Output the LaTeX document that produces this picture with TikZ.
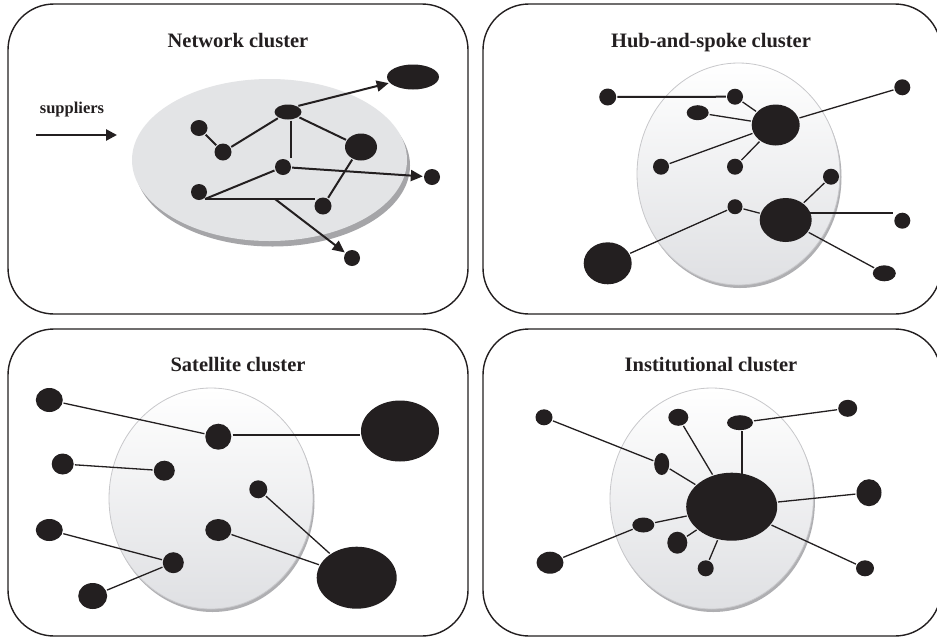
\documentclass[tikz,border=0pt]{standalone}
\usepackage{fontspec}
\setmainfont{Liberation Serif}
\usetikzlibrary{shapes.geometric,arrows.meta,calc}
\definecolor{ink}{RGB}{35,31,32}
\definecolor{diskgray}{RGB}{227,228,230}
\definecolor{diskshadow}{RGB}{165,165,168}
\definecolor{disklow}{RGB}{223,224,227}
\definecolor{diskrim}{RGB}{200,200,203}
\definecolor{rimshadow}{RGB}{175,175,178}
\begin{document}
\begin{tikzpicture}[x=1pt,y=-1pt]
\tikzset{
  dot/.style={ellipse, fill=ink, draw=none, inner sep=0pt, outer sep=1.2pt},
  sz/.style 2 args={minimum width=#1pt, minimum height=#2pt},
  panel/.style={draw=ink, line width=1.4pt, rounded corners=46pt},
  title/.style={font=\fontsize{20.5}{24}\selectfont\bfseries, text=ink, anchor=base},
  link/.style={draw=ink, line width=1.3pt},
  boldlink/.style={draw=ink, line width=2pt},
  flow/.style={draw=ink, line width=2pt, -{Triangle[length=12pt,width=11pt]}},
}
\useasboundingbox (0,0) rectangle (937,638);
\fill[white] (0,0) rectangle (937,638);

% ---------- panel frames ----------
\draw[panel] (8,4) rectangle (468,314);
\draw[panel] (483,4) rectangle (941,314);
\draw[panel] (8,329) rectangle (468,636);
\draw[panel] (483,329) rectangle (941,636);

% ---------- titles ----------
\node[title] (t1) at (238,47) {Network cluster};
\node[title] (t2) at (711,47) {Hub-and-spoke cluster};
\node[title] (t3) at (238,371) {Satellite cluster};
\node[title] (t4) at (711,371) {Institutional cluster};

% ---------- discs ----------
% flat disc with a drop shadow
\fill[diskshadow] (272.5,165.5) ellipse [x radius=137.5, y radius=81];
\fill[diskgray] (269.5,160) ellipse [x radius=137.5, y radius=81];
% shaded discs
\foreach \cx/\cy/\rx/\ry in {738.5/174/101.5/111, 211/498.5/102/110.5, 711.7/498.5/101.7/110.5}{
  \fill[rimshadow] (\cx+1.5,\cy+3) ellipse [x radius=\rx, y radius=\ry];
  \shade[top color=white, bottom color=disklow] (\cx,\cy) ellipse [x radius=\rx, y radius=\ry];
  \draw[diskrim, line width=0.8pt] (\cx,\cy) ellipse [x radius=\rx, y radius=\ry];
}

% ---------- network cluster ----------
\node[font=\fontsize{16.5}{20}\selectfont\bfseries, text=ink, anchor=base] (sup) at (72,113) {suppliers};
\coordinate (sA) at (36,135);
\coordinate (sB) at (117,135);
\draw[draw=ink, line width=2.6pt, -{Triangle[length=11pt,width=11pt]}] (sA) -- (sB);

\node[dot, sz={17}{16}] (n1) at (199,128) {};
\node[dot, sz={17}{17}] (n2) at (223,152) {};
\node[dot, sz={27}{15}] (n3) at (288,112) {};
\node[dot, sz={32}{27}] (n4) at (361,147) {};
\node[dot, sz={16}{16}] (n5) at (283,167) {};
\node[dot, sz={16}{16}] (n6) at (199,192) {};
\node[dot, sz={17}{17}] (n7) at (323,206) {};
\node[dot, sz={52}{25}] (n8) at (413,77) {};
\node[dot, sz={16}{16}] (n9) at (432,177) {};
\node[dot, sz={16}{16}] (n10) at (352,258) {};

\coordinate (f0) at (205,199);
\coordinate (f1) at (315,199);
\coordinate (fork) at (275,199);
\begin{scope}[boldlink]
  \draw (n1) -- (n2);
  \draw (n2) -- (n3);
  \draw ([xshift=3pt]n3.south) -- ([xshift=3pt]n3.south |- n5.north);
  \draw (n3) -- (n4);
  \draw (f0) -- (n5);
  \draw (f0) -- (f1);
  \draw (n4.235) -- (n7);
\end{scope}
\draw[flow] (n3.north east) -- (n8);
\draw[flow] (n5) -- (n9);
\draw[flow] (fork) -- (n10);

% ---------- hub-and-spoke cluster ----------
\node[dot, sz={17}{17}] (h1) at (607.7,97) {};
\node[dot, sz={16}{16}] (h2) at (735,96.7) {};
\node[dot, sz={22}{15}] (h3) at (697.7,112.7) {};
\node[dot, sz={48}{41}] (h4) at (775.7,125) {};
\node[dot, sz={16}{16}] (h5) at (902.3,87.3) {};
\node[dot, sz={16}{16}] (h6) at (661,166.7) {};
\node[dot, sz={16}{16}] (h7) at (735,166.7) {};
\node[dot, sz={16}{16}] (h8) at (831,176.7) {};
\node[dot, sz={15}{15}] (h9) at (735,206.7) {};
\node[dot, sz={52}{44}] (h10) at (785.7,220) {};
\node[dot, sz={16}{16}] (h11) at (902.3,220.7) {};
\node[dot, sz={48}{42}] (h12) at (607.7,263.3) {};
\node[dot, sz={23}{16}] (h13) at (884.3,273.3) {};

\draw[boldlink] (h1) -- (h2);
\begin{scope}[link]
  \draw (h2) -- (h4);
  \draw (h3) -- (h4);
  \draw (h4) -- (h5);
  \draw (h6) -- (h4);
  \draw (h7) -- (h4);
  \draw (h9) -- (h12);
  \draw (h9) -- (h10);
  \draw (h10) -- (h8);
  \draw (h10) -- (h13);
\end{scope}
\draw[draw=ink, line width=1.6pt] ([xshift=-3pt,yshift=7pt]h10.east) -- ([yshift=7pt]h10.east -| h11.west);

% ---------- satellite cluster ----------
\node[dot, sz={27}{24}] (s1) at (49.3,400) {};
\node[dot, sz={26}{26}] (s2) at (218.3,436.7) {};
\node[dot, sz={78}{61}] (s3) at (400,431) {};
\node[dot, sz={22}{21}] (s4) at (62.7,464) {};
\node[dot, sz={21}{20}] (s5) at (164.3,470.7) {};
\node[dot, sz={18}{18}] (s6) at (258.3,489.3) {};
\node[dot, sz={27}{22}] (s7) at (49.3,530) {};
\node[dot, sz={26}{22}] (s8) at (218.3,530) {};
\node[dot, sz={21}{21}] (s9) at (173.3,562.7) {};
\node[dot, sz={29}{26}] (s10) at (92.7,596) {};
\node[dot, sz={80}{62}] (s11) at (356.7,577.7) {};

\draw[boldlink] ([yshift=1.5pt]s2.east) -- ([yshift=1.5pt]s2.east -| s3.west);
\begin{scope}[link]
  \draw (s1) -- (s2);
  \draw (s4) -- (s5);
  \draw (s7) -- (s9);
  \draw (s10) -- (s9);
  \draw (s8) -- (s11);
  \draw (s6) -- (s11);
\end{scope}

% ---------- institutional cluster ----------
\node[dot, sz={17}{16}] (i1) at (544,417.3) {};
\node[dot, sz={20}{17}] (i2) at (678.3,417.3) {};
\node[dot, sz={26}{15}] (i3) at (740,422.7) {};
\node[dot, sz={19}{17}] (i4) at (847.7,408.3) {};
\node[dot, sz={15}{22}] (i5) at (661.7,464) {};
\node[dot, sz={91}{68}] (i6) at (731.7,506.7) {};
\node[dot, sz={25}{27}] (i7) at (869,492.7) {};
\node[dot, sz={22}{15}] (i8) at (643.3,525) {};
\node[dot, sz={20}{22}] (i9) at (677.3,542.7) {};
\node[dot, sz={27}{22}] (i10) at (550,562.7) {};
\node[dot, sz={16}{16}] (i11) at (705.7,568.3) {};
\node[dot, sz={18}{16}] (i12) at (865,568.3) {};

\begin{scope}[link]
  \draw (i1) -- (i5);
  \draw (i5) -- (i6);
  \draw (i2) -- (i6);
  \draw ([xshift=2pt]i3.south) -- ([xshift=2pt,yshift=-2pt]i3.south |- i6.north);
  \draw (i3) -- (i4);
  \draw (i6) -- (i7);
  \draw (i8) -- (i6);
  \draw (i8) -- (i10);
  \draw (i9) -- (i6);
  \draw (i11) -- (i6);
  \draw (i6) -- (i12);
\end{scope}
\end{tikzpicture}
\end{document}
